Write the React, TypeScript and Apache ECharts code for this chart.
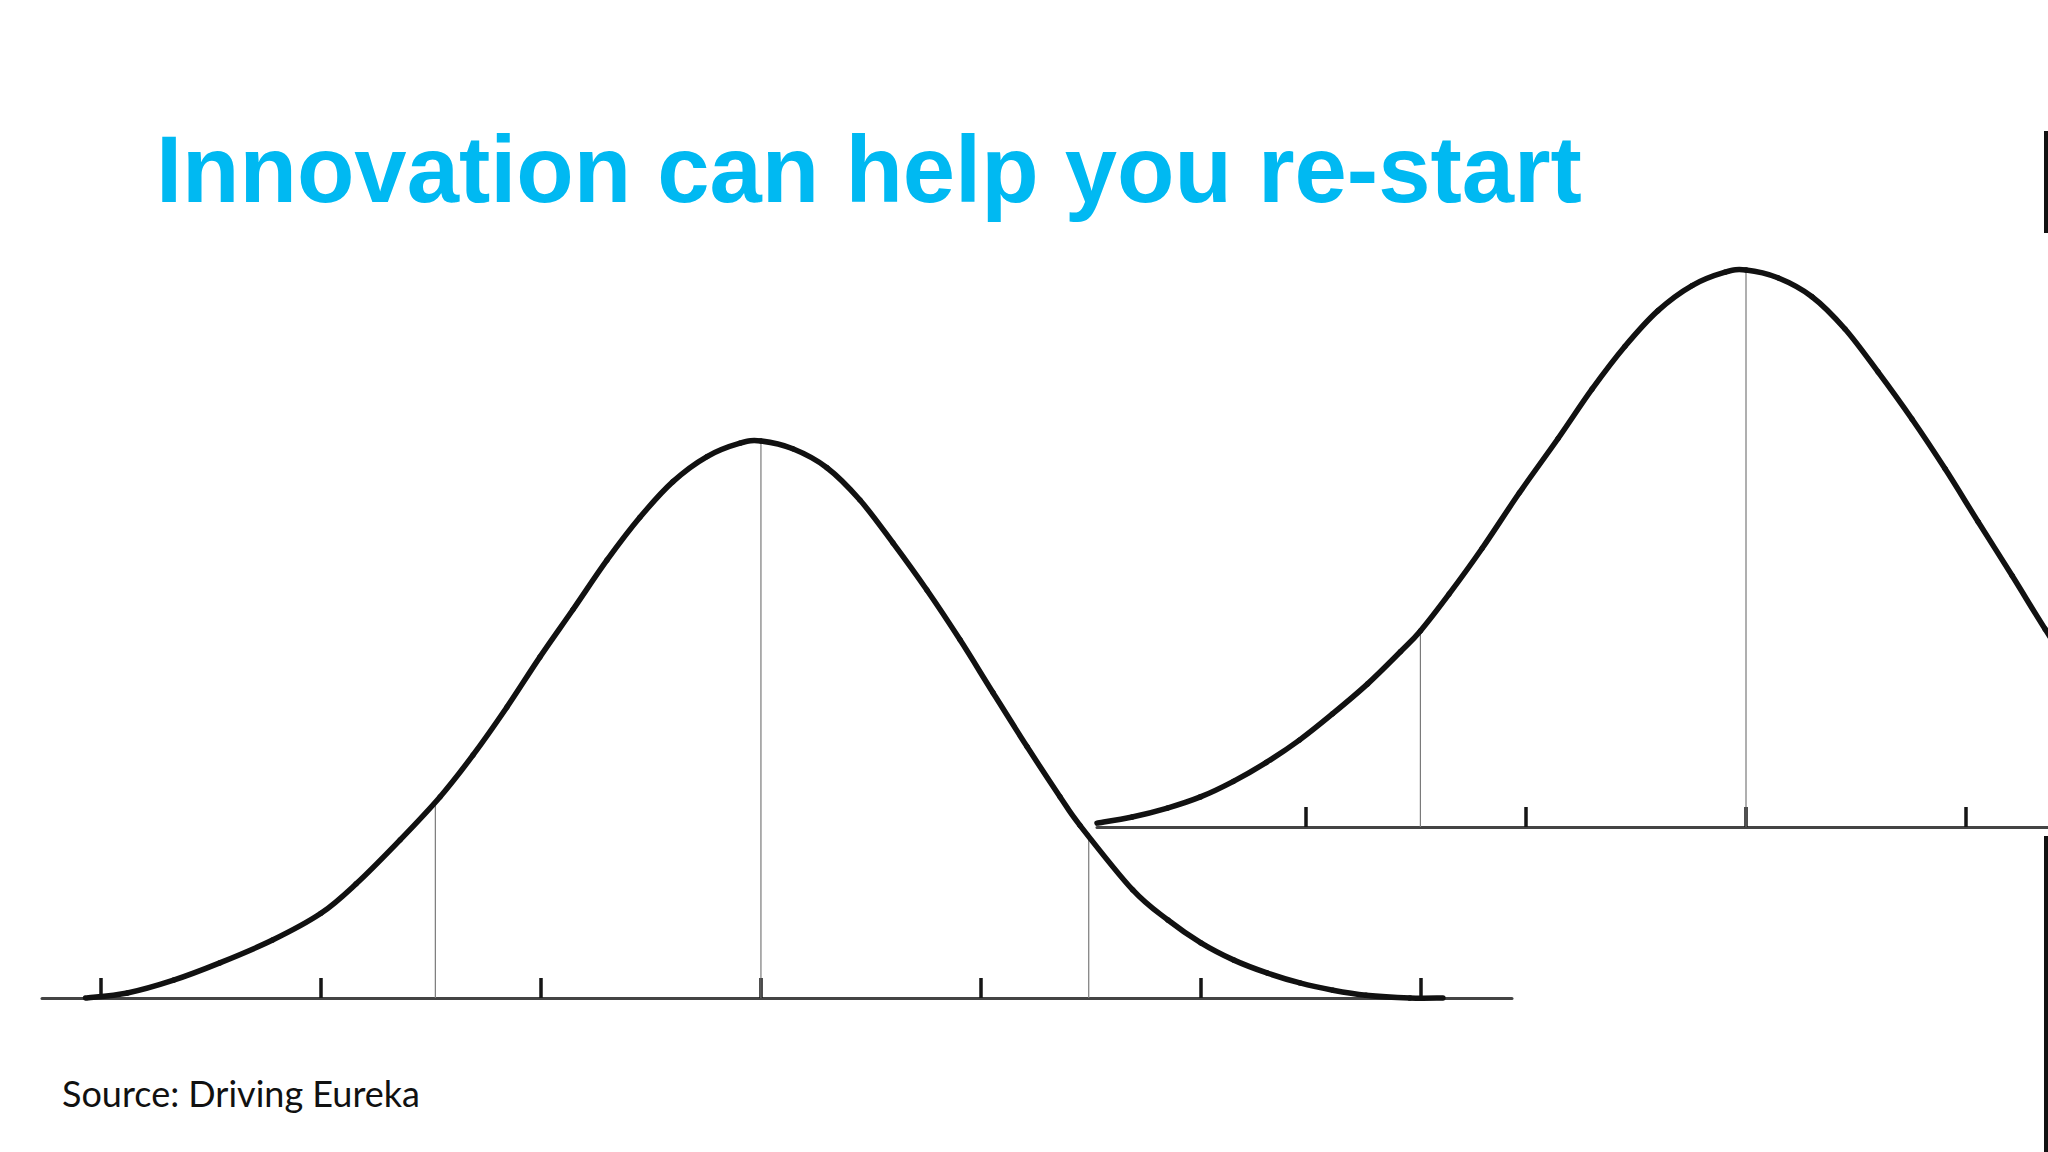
import React, { useEffect, useRef } from "react";
import * as echarts from "echarts";

// ---- Data (x in tick units, y relative to peak height) ----
const tickValues = [-3, -2, -1, 0, 1, 2, 3];

const leftCurveX = [
  -3.07, -2.88, -2.67, -2.46, -2.22, -2.0, -1.84, -1.64, -1.459, -1.309, -1.155, -1.005,
  -0.855, -0.7, -0.55, -0.4, -0.245, -0.095, 0.0, 0.145, 0.3, 0.45, 0.6, 0.755, 0.905,
  1.055, 1.21, 1.36, 1.45, 1.69, 1.85, 2.0, 2.15, 2.3, 2.45, 2.6, 2.75, 2.95, 3.1,
];
const leftCurveY = [
  0.0, 0.009, 0.032, 0.063, 0.104, 0.152, 0.205, 0.284, 0.361, 0.436, 0.522, 0.612,
  0.697, 0.786, 0.863, 0.927, 0.972, 0.996, 1.0, 0.986, 0.952, 0.894, 0.817, 0.732, 0.643,
  0.548, 0.451, 0.361, 0.31, 0.194, 0.14, 0.099, 0.068, 0.045, 0.027, 0.014, 0.005, 0.0, 0.0,
];

const rightCurveX = [
  -2.95, -2.79, -2.63, -2.48, -2.33, -2.18, -2.03, -1.88, -1.72, -1.57, -1.48, -1.35,
  -1.2, -1.03, -0.855, -0.7, -0.55, -0.4, -0.245, -0.095, 0.0, 0.145, 0.3, 0.45, 0.6,
  0.755, 0.905, 1.055, 1.21, 1.36, 1.45, 1.69,
];
const rightCurveY = [
  0.007, 0.018, 0.034, 0.054, 0.082, 0.116, 0.156, 0.203, 0.257, 0.315, 0.352, 0.418,
  0.5, 0.6, 0.697, 0.786, 0.863, 0.927, 0.972, 0.996, 1.0, 0.986, 0.952, 0.894, 0.817,
  0.732, 0.643, 0.548, 0.451, 0.355, 0.305, 0.194,
];

const guideX = [-1.48, 0, 1.49];
const leftGuideY = [0.347, 1.0, 0.296];
const rightGuideY = [0.35, 1.0, 0.296];

const titleText = "Innovation can help you re-start";
const sourceText = "Source: Driving Eureka";

const CURVE_COLOR = "#111111";
const GUIDE_COLOR = "#7a7a7a";

function makeAxis(gridIndex: number, min: number, max: number) {
  return {
    type: "value",
    gridIndex,
    min,
    max,
    axisLine: { show: true, onZero: false, lineStyle: { color: "#444444", width: 3 } },
    axisTick: {
      show: true,
      inside: true,
      length: 20,
      customValues: tickValues,
      lineStyle: { color: "#151515", width: 3.5 },
    },
    axisLabel: { show: false },
    splitLine: { show: false },
  };
}

function zip(xs: number[], ys: number[]) {
  return xs.map((x, i) => [x, ys[i]]);
}

// Smooth curve drawn segment by segment (Catmull-Rom -> cubic Bezier) through the data points,
// each point mapped by the chart's own axes via api.coord.
function curveSeries(gridIndex: number, xs: number[], ys: number[]) {
  const n = xs.length;
  const clampIdx = (k: number) => Math.max(0, Math.min(n - 1, k));
  return {
    type: "custom",
    coordinateSystem: "cartesian2d",
    xAxisIndex: gridIndex,
    yAxisIndex: gridIndex,
    data: zip(xs, ys),
    silent: true,
    z: 3,
    renderItem: (params: any, api: any) => {
      const i = params.dataIndex;
      if (i >= n - 1) return null;
      const p = (k: number) => {
        const j = clampIdx(k);
        return api.coord([xs[j], ys[j]]);
      };
      const p0 = p(i - 1);
      const p1 = p(i);
      const p2 = p(i + 1);
      const p3 = p(i + 2);
      return {
        type: "bezierCurve",
        shape: {
          x1: p1[0],
          y1: p1[1],
          x2: p2[0],
          y2: p2[1],
          cpx1: p1[0] + (p2[0] - p0[0]) / 6,
          cpy1: p1[1] + (p2[1] - p0[1]) / 6,
          cpx2: p2[0] - (p3[0] - p1[0]) / 6,
          cpy2: p2[1] - (p3[1] - p1[1]) / 6,
        },
        style: {
          stroke: CURVE_COLOR,
          lineWidth: 5.5,
          fill: "none",
          lineCap: "round",
        },
      };
    },
  };
}

export default function App() {
  const ref = useRef<HTMLDivElement>(null);

  useEffect(() => {
    if (!ref.current) return;
    const chart = echarts.init(ref.current, undefined, { renderer: "svg" });

    const guideSeries = (gridIndex: number, ys: number[]) =>
      guideX.map((x, i) => ({
        type: "line",
        xAxisIndex: gridIndex,
        yAxisIndex: gridIndex,
        data: [
          [x, 0],
          [x, ys[i]],
        ],
        symbol: "none",
        silent: true,
        clip: true,
        z: 1,
        lineStyle: { color: GUIDE_COLOR, width: 1.2 },
      }));

    const option: any = {
      animation: false,
      backgroundColor: "#ffffff",
      grid: [
        { left: 42, top: 441, width: 1470, height: 557 },
        { left: 1097, top: 270, right: 0, height: 557 },
      ],
      xAxis: [makeAxis(0, -3.268, 3.414), makeAxis(1, -2.95, 1.3727)],
      yAxis: [
        { type: "value", gridIndex: 0, min: 0, max: 1, show: false },
        { type: "value", gridIndex: 1, min: 0, max: 1, show: false },
      ],
      series: [
        ...guideSeries(0, leftGuideY),
        ...guideSeries(1, rightGuideY),
        curveSeries(0, leftCurveX, leftCurveY),
        curveSeries(1, rightCurveX, rightCurveY),
      ],
      graphic: [
        {
          type: "text",
          left: 156,
          top: 122,
          style: {
            text: titleText,
            fill: "#00B9F2",
            font: 'bold 94px "Liberation Sans", Arial, sans-serif',
          },
        },
        {
          type: "text",
          left: 62,
          top: 1075,
          style: {
            text: sourceText,
            fill: "#111111",
            font: '36px Lato, "Open Sans", sans-serif',
          },
        },
        {
          type: "rect",
          shape: { x: 2044, y: 131, width: 4, height: 102 },
          style: { fill: "#111111" },
        },
        {
          type: "rect",
          shape: { x: 2044, y: 836, width: 4, height: 316 },
          style: { fill: "#111111" },
        },
      ],
    };

    chart.setOption(option);
    return () => chart.dispose();
  }, []);

  return (
    <div
      ref={ref}
      style={{
        position: "fixed",
        left: 0,
        top: 0,
        width: 2048,
        height: 1152,
        overflow: "hidden",
        background: "#ffffff",
      }}
    />
  );
}
